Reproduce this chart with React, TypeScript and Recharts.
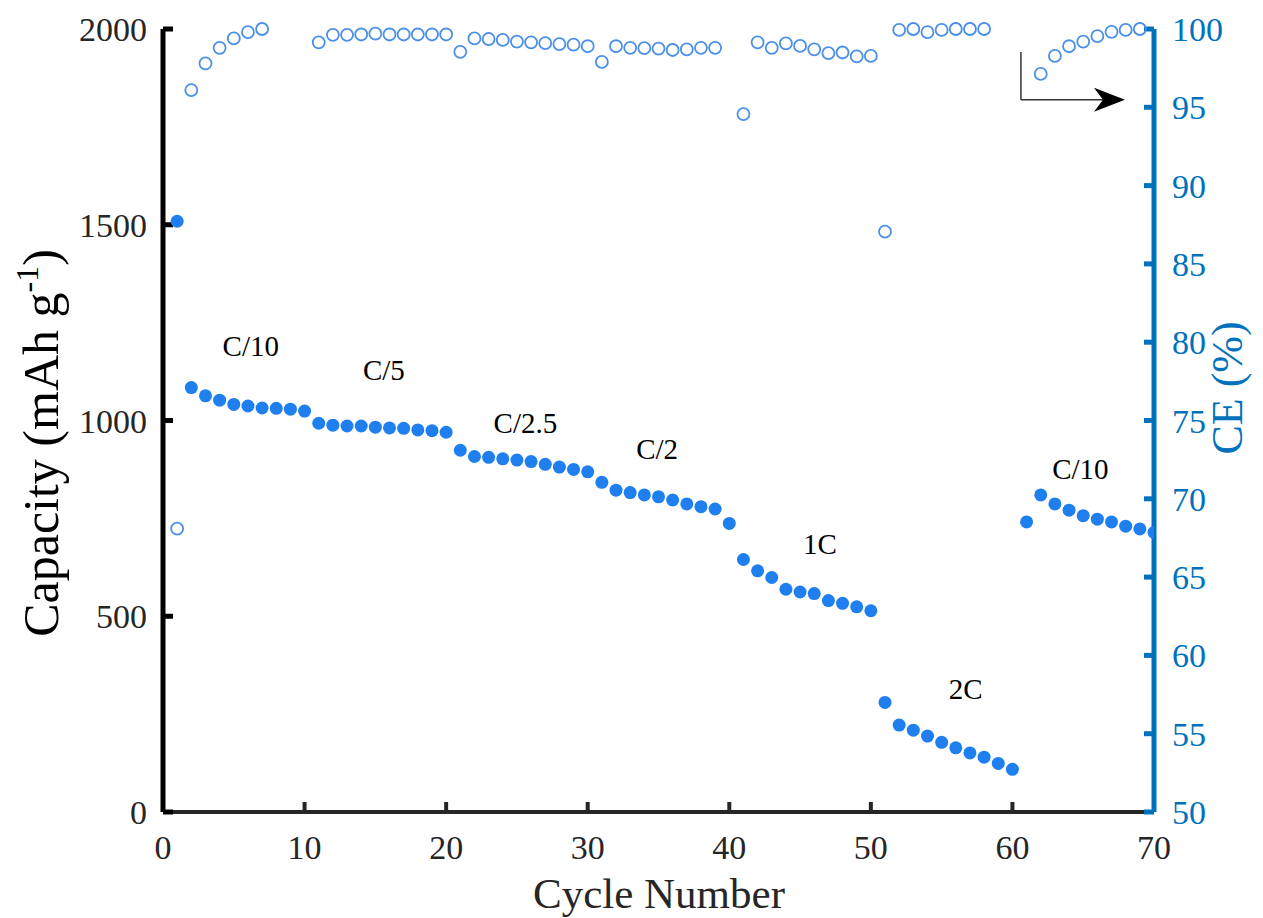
import React from "react"
import { ComposedChart, Scatter, XAxis, YAxis, Label, ReferenceDot, ReferenceLine } from "recharts"

// cycle numbers
const cycles = [
  1, 2, 3, 4, 5, 6, 7, 8, 9, 10, 11, 12, 13, 14, 15, 16, 17, 18, 19, 20,
  21, 22, 23, 24, 25, 26, 27, 28, 29, 30, 31, 32, 33, 34, 35, 36, 37, 38, 39, 40,
  41, 42, 43, 44, 45, 46, 47, 48, 49, 50, 51, 52, 53, 54, 55, 56, 57, 58, 59, 60,
  61, 62, 63, 64, 65, 66, 67, 68, 69, 70,
]

// discharge capacity, mAh/g
const capacity = [
  1509, 1084, 1063, 1052, 1041, 1037, 1032, 1031, 1029, 1024,
  993, 988, 986, 986, 983, 981, 980, 976, 974, 970,
  924, 908, 906, 902, 899, 895, 888, 881, 875, 869,
  842, 822, 816, 810, 805, 797, 787, 780, 774, 737,
  645, 616, 599, 569, 562, 558, 540, 533, 524, 514,
  280, 222, 209, 194, 178, 164, 151, 140, 124, 109,
  741, 810, 787, 771, 757, 748, 741, 730, 723, 714,
]

// coulombic efficiency, %, null = off the chart
const ce = [
  68.1, 96.1, 97.8, 98.8, 99.4, 99.8, 100.0, null, null, null,
  99.15, 99.63, 99.63, 99.65, 99.7, 99.65, 99.65, 99.65, 99.65, 99.65,
  98.54, 99.4, 99.36, 99.3, 99.2, 99.15, 99.1, 99.04, 99.0, 98.9,
  97.9, 98.9, 98.8, 98.78, 98.75, 98.66, 98.7, 98.8, 98.8, null,
  94.57, 99.15, 98.8, 99.08, 98.92, 98.7, 98.46, 98.5, 98.25, 98.28,
  87.06, 99.94, 100.0, 99.8, 99.94, 100.0, 100.0, 100.0, null, null,
  null, 97.13, 98.28, 98.9, 99.2, 99.55, 99.82, 99.94, 100.0, null,
]

const rateLabels = ["C/10", "C/5", "C/2.5", "C/2", "1C", "2C", "C/10"]
const rateX = [6.2, 15.6, 25.6, 34.9, 46.4, 56.7, 64.8]
const rateY = [1190, 1129, 994, 927, 685, 314, 876]

const xTicks = [0, 10, 20, 30, 40, 50, 60, 70]
const capTicks = [0, 500, 1000, 1500, 2000]
const ceTicks = [50, 55, 60, 65, 70, 75, 80, 85, 90, 95, 100]

const FONT = "'Liberation Serif', 'Times New Roman', serif"
const BLUE = "#0072BD"
const DOT = "#1f7fee"
const RING = "#4a8fe8"

const capData = cycles.map((c, i) => ({ cycle: c, cap: capacity[i] }))
const ceData = cycles
  .map((c, i) => ({ cycle: c, ce: ce[i] }))
  .filter((d) => d.ce !== null)

const FilledDot = (props: any) => <circle cx={props.cx} cy={props.cy} r={6.5} fill={DOT} />
const OpenDot = (props: any) => (
  <circle cx={props.cx} cy={props.cy} r={6} fill="none" stroke={RING} strokeWidth={1.8} />
)

const ArrowStem = (props: any) => (
  <line x1={props.x1} y1={props.y1} x2={props.x2} y2={props.y2} stroke="#333" strokeWidth={1.5} />
)
const ArrowHead = (props: any) => {
  const { x1, y1, x2, y2 } = props
  return (
    <g>
      <line x1={x1} y1={y1} x2={x2 - 20} y2={y2} stroke="#333" strokeWidth={1.5} />
      <polygon
        points={`${x2},${y2} ${x2 - 31},${y2 - 12} ${x2 - 22},${y2} ${x2 - 31},${y2 + 12}`}
        fill="#000"
      />
    </g>
  )
}

export default function App() {
  return (
    <ComposedChart width={1247} height={910} margin={{ top: 21, right: 21, left: 45, bottom: 46 }}>
      <XAxis
        type="number"
        dataKey="cycle"
        domain={[0, 70]}
        ticks={xTicks}
        allowDataOverflow
        height={60}
        axisLine={{ stroke: "#262626", strokeWidth: 4 }}
        tickLine={{ stroke: "#262626", strokeWidth: 4 }}
        tickSize={-10}
        tickMargin={33}
        tick={{ fontSize: 34, fontFamily: FONT, fill: "#262626" }}
      >
        <Label
          content={() => (
            <text x={651} y={900} textAnchor="middle" fontSize={43} fontFamily={FONT} fill="#262626">
              Cycle Number
            </text>
          )}
        />
      </XAxis>
      <YAxis
        yAxisId="cap"
        type="number"
        domain={[0, 2000]}
        ticks={capTicks}
        width={110}
        axisLine={{ stroke: "#000", strokeWidth: 5 }}
        tickLine={{ stroke: "#000", strokeWidth: 5 }}
        tickSize={-10}
        tickMargin={26}
        tick={{ fontSize: 34, fontFamily: FONT, fill: "#262626" }}
      >
        <Label
          content={() => (
            <text
              x={50}
              y={435}
              transform="rotate(-90 50 435)"
              textAnchor="middle"
              fontSize={50}
              fontFamily={FONT}
              fill="#000"
            >
              Capacity (mAh g
              <tspan dy={-20} fontSize={32}>
                -1
              </tspan>
              <tspan dy={20} fontSize={50}>
                )
              </tspan>
            </text>
          )}
        />
      </YAxis>
      <YAxis
        yAxisId="ce"
        orientation="right"
        type="number"
        domain={[50, 100]}
        ticks={ceTicks}
        width={80}
        axisLine={{ stroke: BLUE, strokeWidth: 5 }}
        tickLine={{ stroke: BLUE, strokeWidth: 5 }}
        tickSize={-10}
        tickMargin={28}
        tick={{ fontSize: 34, fontFamily: FONT, fill: BLUE }}
      >
        <Label
          content={() => (
            <text
              x={1234}
              y={380}
              transform="rotate(-90 1234 380)"
              textAnchor="middle"
              fontSize={44}
              fontFamily={FONT}
              fill={BLUE}
            >
              CE (%)
            </text>
          )}
        />
      </YAxis>

      <Scatter
        yAxisId="ce"
        data={ceData}
        dataKey="ce"
        shape={OpenDot}
        isAnimationActive={false}
      />
      <Scatter
        yAxisId="cap"
        data={capData}
        dataKey="cap"
        shape={FilledDot}
        isAnimationActive={false}
      />

      {rateLabels.map((t, i) => (
        <ReferenceDot
          key={i}
          yAxisId="cap"
          x={rateX[i]}
          y={rateY[i]}
          r={0}
          fill="none"
          stroke="none"
          label={{ value: t, position: "center", fontSize: 29, fontFamily: FONT, fill: "#000" }}
        />
      ))}

      <ReferenceLine
        yAxisId="cap"
        segment={[
          { x: 60.6, y: 1941 },
          { x: 60.6, y: 1819 },
        ]}
        shape={ArrowStem}
      />
      <ReferenceLine
        yAxisId="cap"
        segment={[
          { x: 60.6, y: 1819 },
          { x: 67.95, y: 1819 },
        ]}
        shape={ArrowHead}
      />
    </ComposedChart>
  )
}
